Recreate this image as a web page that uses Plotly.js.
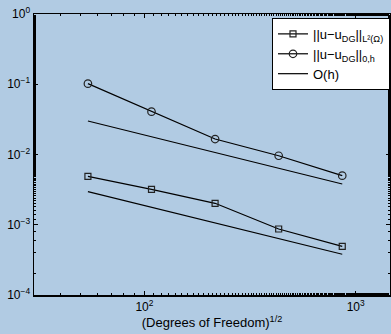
<!DOCTYPE html>
<html><head><meta charset="utf-8">
<script src="https://cdn.plot.ly/plotly-3.0.1.min.js"></script>
<style>html,body{margin:0;padding:0;background:#b1cbe3;}</style>
</head><body>
<div id="chart" style="width:391px;height:334px;"></div>
<script>
const dof = [54, 108, 216, 432, 864];
const errL2 = [0.00489, 0.00319, 0.00202, 0.00087, 0.000493];
const err0h = [0.102, 0.0407, 0.0166, 0.0096, 0.0050];
const ohX = [54, 864];
const ohUpper = [0.030, 0.0038];
const ohLower = [0.00296, 0.00038];
const yTickVals = [1e-4, 1e-3, 1e-2, 1e-1, 1];
const yTickText = ['10<sup>−4</sup>', '10<sup>−3</sup>', '10<sup>−2</sup>', '10<sup>−1</sup>', '10<sup>0</sup>'];
const xTickVals = [100, 1000];
const xTickText = ['10<sup>2</sup>', '10<sup>3</sup>'];

const font = {family: 'Liberation Sans, Arial, sans-serif', size: 12, color: '#000'};
const legFont = {family: 'Liberation Sans, Arial, sans-serif', size: 13, color: '#000'};
const traces = [
  {x: dof, y: errL2, mode: 'lines+markers', name: '||u−u<sub>DG</sub>||<sub>L²(Ω)</sub>',
   line: {color: '#000', width: 1.2},
   marker: {symbol: 'square-open', size: 6, color: '#222', line: {width: 1.2, color: '#222'}}},
  {x: dof, y: err0h, mode: 'lines+markers', name: '||u−u<sub>DG</sub>||<sub>0,h</sub>',
   line: {color: '#000', width: 1.2},
   marker: {symbol: 'circle-open', size: 7.5, color: '#222', line: {width: 1.2, color: '#222'}}},
  {x: ohX, y: ohUpper, mode: 'lines', name: 'O(h)', line: {color: '#000', width: 1.2}},
  {x: ohX, y: ohLower, mode: 'lines', name: 'O(h)', showlegend: false, line: {color: '#000', width: 1.2}}
];
const axisCommon = {showgrid: false, zeroline: false, showline: true, linecolor: '#000', linewidth: 1.5,
  mirror: 'ticks', ticks: 'inside', ticklen: 4, tickcolor: '#000', tickfont: font,
  minor: {ticks: 'inside', ticklen: 2, tickcolor: '#000', showgrid: false}};
const layout = {
  width: 391, height: 334,
  margin: {l: 34, r: 1, t: 14, b: 39},
  paper_bgcolor: '#b1cbe3', plot_bgcolor: '#b1cbe3',
  font: font,
  showlegend: true,
  xaxis: Object.assign({}, axisCommon, {type: 'log', range: [Math.log10(30), Math.log10(1454)],
    tickvals: xTickVals, ticktext: xTickText,
    title: {text: '(Degrees of Freedom)<sup>1/2</sup>', font: {family: font.family, size: 13, color: '#000'}, standoff: 0}}),
  yaxis: Object.assign({}, axisCommon, {type: 'log', range: [-4, 0],
    tickvals: yTickVals, ticktext: yTickText}),
  legend: {x: 1, xanchor: 'right', y: 0.986, yanchor: 'top', bgcolor: '#fff',
    bordercolor: '#000', borderwidth: 1, font: legFont, tracegroupgap: 0, itemwidth: 30}
};
Plotly.newPlot('chart', traces, layout, {staticPlot: true});
</script>
</body></html>
